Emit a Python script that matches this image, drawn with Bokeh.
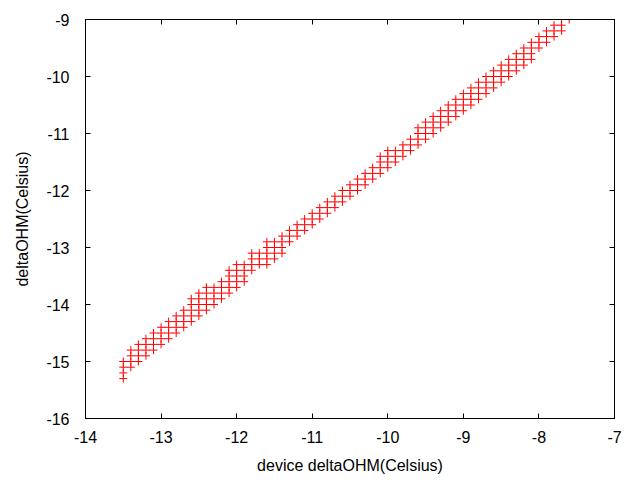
from bokeh.plotting import figure
from bokeh.models import Range1d, FixedTicker, LinearAxis, ColumnDataSource
from bokeh.embed import file_html
from bokeh.resources import INLINE

# device deltaOHM column positions (Celsius)
device_cols = [-13.5, -13.4, -13.3, -13.2, -13.1, -13.0, -12.9, -12.8, -12.7, -12.6,
               -12.5, -12.4, -12.3, -12.2, -12.1, -12.0, -11.9, -11.8, -11.7, -11.6,
               -11.5, -11.4, -11.3, -11.2, -11.1, -11.0, -10.9, -10.8, -10.7, -10.6,
               -10.5, -10.4, -10.3, -10.2, -10.1, -10.0, -9.9, -9.8, -9.7, -9.6,
               -9.5, -9.4, -9.3, -9.2, -9.1, -9.0, -8.9, -8.8, -8.7, -8.6,
               -8.5, -8.4, -8.3, -8.2, -8.1, -8.0, -7.9, -7.8, -7.7, -7.6]

# deltaOHM readings observed at each device column
deltaohm_vals = [
    [-15.0, -15.1, -15.2, -15.3],
    [-14.8, -14.9, -15.0, -15.1],
    [-14.7, -14.8, -14.9, -15.0],
    [-14.6, -14.7, -14.8, -14.9],
    [-14.5, -14.6, -14.7, -14.8],
    [-14.4, -14.5, -14.6, -14.7],
    [-14.3, -14.4, -14.5, -14.6],
    [-14.2, -14.3, -14.4, -14.5],
    [-14.1, -14.2, -14.3, -14.4],
    [-13.9, -14.0, -14.1, -14.2, -14.3],
    [-13.8, -13.9, -14.0, -14.1, -14.2],
    [-13.7, -13.8, -13.9, -14.0, -14.1],
    [-13.7, -13.8, -13.9, -14.0],
    [-13.6, -13.7, -13.8, -13.9],
    [-13.4, -13.5, -13.6, -13.7, -13.8],
    [-13.3, -13.4, -13.5, -13.6, -13.7],
    [-13.3, -13.4, -13.5, -13.6],
    [-13.1, -13.2, -13.3, -13.4],
    [-13.1, -13.2, -13.3],
    [-12.9, -13.0, -13.1, -13.2, -13.3],
    [-12.9, -13.0, -13.1, -13.2],
    [-12.8, -12.9, -13.0, -13.1],
    [-12.7, -12.8, -12.9],
    [-12.6, -12.7, -12.8],
    [-12.5, -12.6, -12.7],
    [-12.4, -12.5, -12.6],
    [-12.3, -12.4, -12.5],
    [-12.2, -12.3, -12.4],
    [-12.1, -12.2, -12.3],
    [-12.0, -12.1, -12.2],
    [-11.9, -12.0, -12.1],
    [-11.8, -11.9, -12.0],
    [-11.7, -11.8, -11.9],
    [-11.6, -11.7, -11.8],
    [-11.4, -11.5, -11.6, -11.7],
    [-11.3, -11.4, -11.5, -11.6],
    [-11.3, -11.4, -11.5],
    [-11.2, -11.3, -11.4],
    [-11.1, -11.2, -11.3],
    [-10.9, -11.0, -11.1, -11.2],
    [-10.8, -10.9, -11.0, -11.1],
    [-10.7, -10.8, -10.9, -11.0],
    [-10.6, -10.7, -10.8, -10.9],
    [-10.5, -10.6, -10.7, -10.8],
    [-10.4, -10.5, -10.6, -10.7],
    [-10.3, -10.4, -10.5, -10.6],
    [-10.2, -10.3, -10.4, -10.5],
    [-10.1, -10.2, -10.3, -10.4],
    [-10.0, -10.1, -10.2, -10.3],
    [-9.9, -10.0, -10.1, -10.2],
    [-9.8, -9.9, -10.0, -10.1],
    [-9.7, -9.8, -9.9, -10.0],
    [-9.6, -9.7, -9.8, -9.9],
    [-9.5, -9.6, -9.7, -9.8],
    [-9.4, -9.5, -9.6, -9.7],
    [-9.3, -9.4, -9.5],
    [-9.2, -9.3, -9.4],
    [-9.1, -9.2, -9.3],
    [-9.0, -9.1, -9.2],
    [-9.0],
]

x_ticks = [-14, -13, -12, -11, -10, -9, -8, -7]
y_ticks = [-16, -15, -14, -13, -12, -11, -10, -9]
x_tick_labels = ["-14", "-13", "-12", "-11", "-10", "-9", "-8", "-7"]
y_tick_labels = ["-16", "-15", "-14", "-13", "-12", "-11", "-10", "-9"]

xs, ys = [], []
for xc, col in zip(device_cols, deltaohm_vals):
    for yv in col:
        xs.append(xc)
        ys.append(yv)
src = ColumnDataSource(dict(x=xs, y=ys))

FONT = "Liberation Sans"

p = figure(output_backend="svg", toolbar_location=None,
           frame_width=529, frame_height=399,
           x_range=Range1d(-14, -7), y_range=Range1d(-16, -9),
           min_border_left=85, min_border_right=26,
           min_border_top=19, min_border_bottom=62,
           background_fill_color="white", border_fill_color="white")
p.xgrid.visible = False
p.ygrid.visible = False
p.outline_line_color = "black"
p.outline_line_width = 1

p.scatter("x", "y", source=src, marker="cross", size=8,
          line_color="#ff0000", line_width=1)

for ax, ticks, labels in ((p.xaxis[0], x_ticks, x_tick_labels),
                          (p.yaxis[0], y_ticks, y_tick_labels)):
    ax.ticker = FixedTicker(ticks=ticks)
    ax.major_label_overrides = {t: s for t, s in zip(ticks, labels)}
    ax.major_tick_in = 5
    ax.major_tick_out = 0
    ax.minor_tick_line_color = None
    ax.axis_line_color = "black"
    ax.major_tick_line_color = "black"
    ax.major_label_text_font = FONT
    ax.major_label_text_font_size = "16px"
    ax.major_label_text_color = "black"
    ax.axis_label_text_font = FONT
    ax.axis_label_text_font_size = "16px"
    ax.axis_label_text_font_style = "normal"
    ax.axis_label_text_color = "black"

p.xaxis[0].axis_label = "device deltaOHM(Celsius)"
p.yaxis[0].axis_label = "deltaOHM(Celsius)"
p.xaxis[0].major_label_standoff = 12
p.xaxis[0].axis_label_standoff = 11
p.yaxis[0].major_label_standoff = 16
p.yaxis[0].axis_label_standoff = 12

top = LinearAxis(ticker=FixedTicker(ticks=x_ticks), major_tick_in=5, major_tick_out=0,
                 minor_tick_line_color=None, major_label_text_color=None,
                 major_label_standoff=0, axis_line_color="black")
right = LinearAxis(ticker=FixedTicker(ticks=y_ticks), major_tick_in=5, major_tick_out=0,
                   minor_tick_line_color=None, major_label_text_color=None,
                   major_label_standoff=0, axis_line_color="black")
p.add_layout(top, "above")
p.add_layout(right, "right")

open("out.html", "w").write(file_html(p, INLINE))
